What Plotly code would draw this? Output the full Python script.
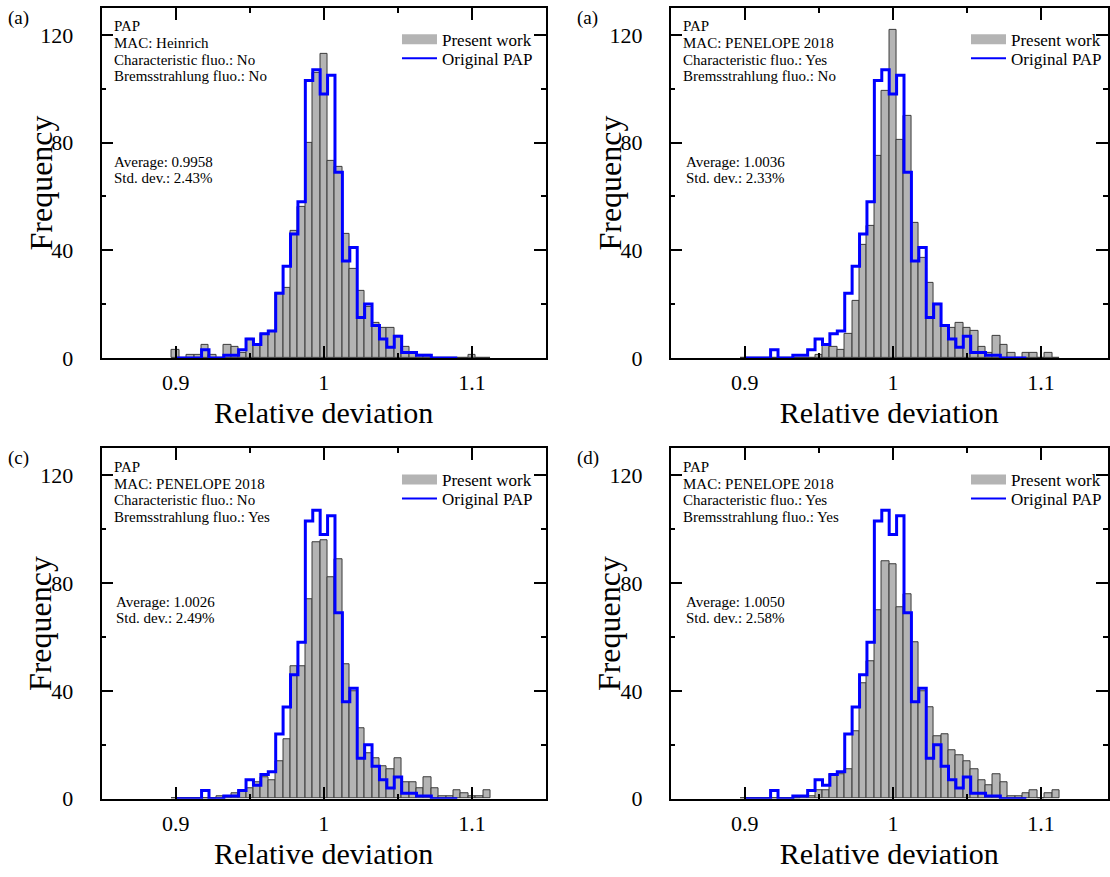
import plotly.graph_objects as go

# ---------------- data ----------------
BIN_CENTERS = [0.900, 0.905, 0.910, 0.915, 0.920, 0.925, 0.930, 0.935, 0.940, 0.945,
               0.950, 0.955, 0.960, 0.965, 0.970, 0.975, 0.980, 0.985, 0.990, 0.995,
               1.000, 1.005, 1.010, 1.015, 1.020, 1.025, 1.030, 1.035, 1.040, 1.045,
               1.050, 1.055, 1.060, 1.065, 1.070, 1.075, 1.080, 1.085, 1.090, 1.095,
               1.100, 1.105, 1.110]

# "Present work" histograms (one per panel)
present_a = [3, 0, 1, 1, 5, 1, 0, 5, 4, 2,
             7, 5, 9, 10, 24, 26, 47, 56, 80, 106,
             113, 73, 71, 46, 33, 25, 19, 13, 11, 11,
             8, 4, 2, 1, 1, 0, 0, 0, 0, 0,
             1, 0, 0]
present_b = [0, 0, 0, 0, 0, 0, 0, 0, 0, 0,
             1, 5, 4, 3, 9, 21, 42, 49, 75, 99,
             122, 81, 90, 50, 37, 28, 20, 12, 11, 13,
             11, 10, 4, 2, 8, 5, 2, 0, 2, 2,
             0, 2, 0]
present_c = [0, 0, 0, 0, 0, 0, 1, 1, 2, 3,
             4, 6, 8, 7, 14, 22, 49, 49, 74, 95,
             96, 82, 89, 50, 40, 26, 17, 15, 12, 11,
             15, 6, 6, 4, 8, 4, 1, 1, 3, 2,
             1, 1, 3]
present_d = [0, 0, 0, 0, 0, 0, 0, 0, 1, 1,
             3, 3, 9, 9, 11, 25, 43, 51, 70, 88,
             87, 71, 76, 58, 40, 34, 23, 24, 18, 16,
             14, 11, 7, 5, 9, 6, 1, 1, 2, 3,
             0, 2, 3]

# "Original PAP" histogram (same in all panels)
PAP_CENTERS = [0.900, 0.905, 0.910, 0.915, 0.920, 0.925, 0.930, 0.935, 0.940, 0.945,
               0.950, 0.955, 0.960, 0.965, 0.970, 0.975, 0.980, 0.985, 0.990, 0.995,
               1.000, 1.005, 1.010, 1.015, 1.020, 1.025, 1.030, 1.035, 1.040, 1.045,
               1.050, 1.055, 1.060, 1.065, 1.070, 1.075, 1.080, 1.085, 1.090]
original_pap = [0, 0, 0, 0, 3, 0, 0, 1, 1, 3,
                7, 5, 9, 10, 24, 34, 46, 58, 103, 107,
                98, 105, 69, 36, 41, 15, 20, 12, 7, 4,
                8, 2, 2, 1, 1, 0, 0, 0, 0]

BIN_WIDTH = 0.005

panel_letters = ["(a)", "(a)", "(c)", "(d)"]
panel_info = [
    ["PAP", "MAC: Heinrich", "Characteristic fluo.: No", "Bremsstrahlung fluo.: No"],
    ["PAP", "MAC: PENELOPE 2018", "Characteristic fluo.: Yes", "Bremsstrahlung fluo.: No"],
    ["PAP", "MAC: PENELOPE 2018", "Characteristic fluo.: No", "Bremsstrahlung fluo.: Yes"],
    ["PAP", "MAC: PENELOPE 2018", "Characteristic fluo.: Yes", "Bremsstrahlung fluo.: Yes"],
]
panel_stats = [
    ["Average: 0.9958", "Std. dev.: 2.43%"],
    ["Average: 1.0036", "Std. dev.: 2.33%"],
    ["Average: 1.0026", "Std. dev.: 2.49%"],
    ["Average: 1.0050", "Std. dev.: 2.58%"],
]
present_series = [present_a, present_b, present_c, present_d]

X_TICKS = [0.9, 1.0, 1.1]
X_TICK_LABELS = ["0.9", "1", "1.1"]
Y_TICKS = [0, 40, 80, 120]
Y_TICK_LABELS = ["0", "40", "80", "120"]

# ---------------- layout geometry (pixels) ----------------
W, H = 1110, 877
FONT = "Liberation Serif"
GRAY = "#b4b4b4"
BLUE = "#0000ff"

PX_PER_UNIT_X = 1485.0  # pixels per 1.0 of relative deviation
panels = [
    dict(x0=101.7, x1=546.7, y0=8.0, y1=363.3),
    dict(x0=671.75, x1=1110.0, y0=8.0, y1=363.3),
    dict(x0=101.7, x1=546.7, y0=455.0, y1=810.7),
    dict(x0=671.75, x1=1110.0, y0=455.0, y1=810.7),
]
avg_offsets = [10.6, 13.0, 12.6, 13.0]

fig = go.Figure()
layout_axes = {}
annotations = []

for i, p in enumerate(panels):
    n = i + 1
    xa = "x" if n == 1 else f"x{n}"
    ya = "y" if n == 1 else f"y{n}"
    leg_a = "legend" if n == 1 else f"legend{2 * n - 1}"
    leg_b = f"legend{2 * n}"

    fig.add_trace(go.Bar(
        x=BIN_CENTERS, y=present_series[i], width=BIN_WIDTH,
        marker=dict(color=GRAY, line=dict(color="#3a3a3a", width=1)),
        name="Present work", showlegend=False, xaxis=xa, yaxis=ya,
    ))
    fig.add_trace(go.Scatter(
        x=PAP_CENTERS, y=original_pap, mode="lines", line_shape="hvh",
        line=dict(color=BLUE, width=3), name="Original PAP",
        showlegend=False, xaxis=xa, yaxis=ya,
    ))
    # legend entries (one legend box per row for exact spacing)
    fig.add_trace(go.Scatter(
        x=[None], y=[None], mode="lines", line=dict(color=GRAY, width=10),
        name="Present work", legend=leg_a, xaxis=xa, yaxis=ya,
    ))
    fig.add_trace(go.Scatter(
        x=[None], y=[None], mode="lines", line=dict(color=BLUE, width=2),
        name="Original PAP", legend=leg_b, xaxis=xa, yaxis=ya,
    ))

    x_right = 0.85 + (p["x1"] - p["x0"]) / PX_PER_UNIT_X
    xkey = "xaxis" if n == 1 else f"xaxis{n}"
    ykey = "yaxis" if n == 1 else f"yaxis{n}"
    layout_axes[xkey] = dict(
        domain=[p["x0"] / W, p["x1"] / W], anchor=ya, range=[0.85, x_right],
        tickvals=X_TICKS, ticktext=X_TICK_LABELS, ticks="inside", ticklen=12,
        tickwidth=1.5, tickcolor="black", showline=True, linecolor="black",
        linewidth=1.5, mirror="ticks", showgrid=False, zeroline=False,
        tickfont=dict(family=FONT, size=22, color="black"),
        ticklabelstandoff=4,
        minor=dict(dtick=0.05, tick0=0.85, ticks="inside", ticklen=5,
                   tickcolor="black", tickwidth=1.5),
        title=dict(text="Relative deviation", font=dict(family=FONT, size=30, color="black"),
                   standoff=8),
    )
    layout_axes[ykey] = dict(
        domain=[1 - p["y1"] / H, 1 - p["y0"] / H], anchor=xa, range=[0, 130],
        tickvals=Y_TICKS, ticktext=Y_TICK_LABELS, ticks="inside", ticklen=12,
        tickwidth=1.5, tickcolor="black", showline=True, linecolor="black",
        linewidth=1.5, mirror="ticks", showgrid=False, zeroline=False,
        tickfont=dict(family=FONT, size=22, color="black"),
        ticklabelstandoff=22,
        minor=dict(dtick=20, tick0=0, ticks="inside", ticklen=5,
                   tickcolor="black", tickwidth=1.5),
    )

    # legend placement
    for leg, top in ((leg_a, 14.0), (leg_b, 33.3)):
        layout_axes[leg] = dict(
            x=(p["x0"] + 296) / W, y=1 - (p["y0"] + top) / H,
            xanchor="left", yanchor="top",
            bgcolor="rgba(0,0,0,0)", borderwidth=0, itemwidth=35,
            font=dict(family=FONT, size=17, color="black"),
        )

    # panel letter
    annotations.append(dict(
        text=panel_letters[i], xref="paper", yref="paper",
        x=(p["x0"] - 82.7) / W, y=1 - (p["y0"] + 10) / H,
        xanchor="center", yanchor="middle", showarrow=False,
        font=dict(family=FONT, size=19, color="black"),
    ))
    # y-axis title
    annotations.append(dict(
        text="Frequency", xref="paper", yref="paper",
        x=(p["x0"] - 61) / W, y=1 - (p["y0"] + p["y1"]) / 2 / H,
        xanchor="center", yanchor="middle", textangle=-90, showarrow=False,
        font=dict(family=FONT, size=32, color="black"),
    ))
    # info text
    for txt, off in zip(panel_info[i], [18.7, 36.0, 52.7, 69.3]):
        annotations.append(dict(
            text=txt, xref="paper", yref="paper",
            x=(p["x0"] + 10.6) / W, y=1 - (p["y0"] + off) / H,
            xanchor="left", yanchor="middle", showarrow=False,
            font=dict(family=FONT, size=15, color="black"),
        ))
    for txt, off in zip(panel_stats[i], [156.0, 172.3]):
        annotations.append(dict(
            text=txt, xref="paper", yref="paper",
            x=(p["x0"] + avg_offsets[i]) / W, y=1 - (p["y0"] + off) / H,
            xanchor="left", yanchor="middle", showarrow=False,
            font=dict(family=FONT, size=15, color="black"),
        ))

fig.update_layout(
    width=W, height=H, margin=dict(l=0, r=0, t=0, b=0),
    paper_bgcolor="white", plot_bgcolor="white",
    bargap=0, barmode="overlay",
    annotations=annotations,
    font=dict(family=FONT, color="black"),
    **layout_axes,
)

fig.write_html("out.html", config={"displayModeBar": False},
               post_script="document.body.style.margin='0';")
